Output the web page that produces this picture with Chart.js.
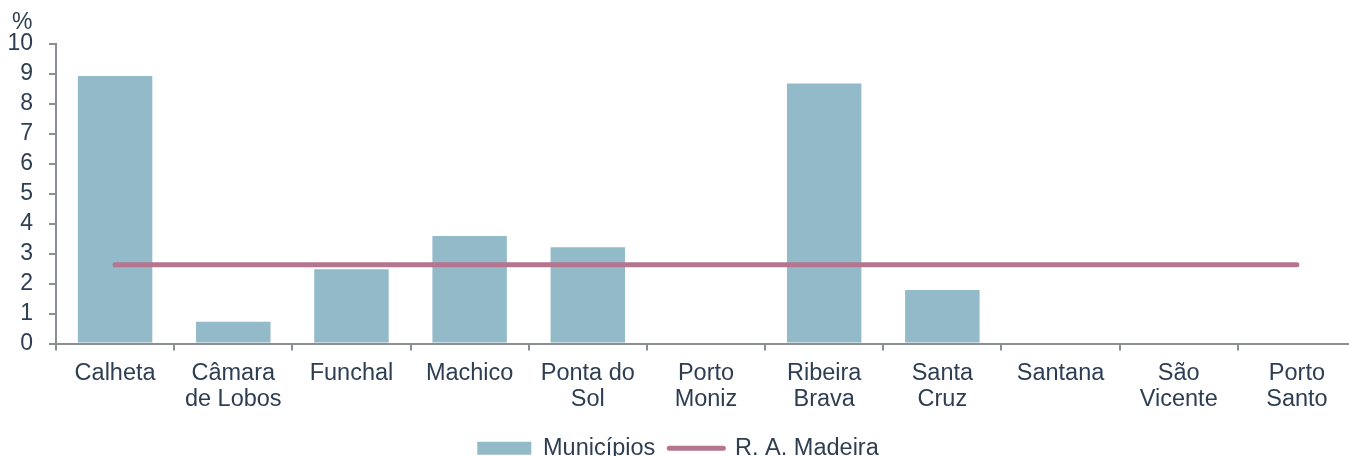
<!DOCTYPE html>
<html>
<head>
<meta charset="utf-8">
<script src="https://cdn.jsdelivr.net/npm/chart.js@4"></script>
<style>
html,body{margin:0;padding:0;background:#fff;overflow:hidden;}
#wrap{position:absolute;left:0;top:0;width:1356px;height:470px;}
</style>
</head>
<body>
<div id="wrap"><canvas id="c"></canvas></div>
<script>
const categories = [
  ['Calheta'], ['Câmara', 'de Lobos'], ['Funchal'], ['Machico'], ['Ponta do', 'Sol'],
  ['Porto', 'Moniz'], ['Ribeira', 'Brava'], ['Santa', 'Cruz'], ['Santana'], ['São', 'Vicente'], ['Porto', 'Santo']
];
const municipios = [8.93, 0.73, 2.48, 3.59, 3.21, 0, 8.68, 1.79, 0, 0, 0];
const madeira = [2.63, 2.63, 2.63, 2.63, 2.63, 2.63, 2.63, 2.63, 2.63, 2.63, 2.63];
const seriesNames = ['Municípios', 'R. A. Madeira'];
const yTicks = [0, 1, 2, 3, 4, 5, 6, 7, 8, 9, 10];
const unitLabel = '%';

const textColor = '#2e3e52';
const axisColor = '#8b8e92';
const barColor = '#93bac8';
const lineColor = '#b5758f';
const FONT = '"Liberation Sans", Arial, sans-serif';

const unitPlugin = {
  id: 'unitLabel',
  afterDraw(chart) {
    const ctx = chart.ctx;
    ctx.save();
    ctx.font = '23px ' + FONT;
    ctx.fillStyle = textColor;
    ctx.textAlign = 'left';
    ctx.textBaseline = 'alphabetic';
    ctx.fillText(unitLabel, 12, 29);
    ctx.restore();
  }
};

new Chart(document.getElementById('c'), {
  data: {
    labels: categories,
    datasets: [
      {
        type: 'bar', label: seriesNames[0], data: municipios,
        backgroundColor: barColor, borderWidth: 0,
        barPercentage: 0.63, categoryPercentage: 1.0, order: 2
      },
      {
        type: 'line', label: seriesNames[1], data: madeira,
        borderColor: lineColor, backgroundColor: lineColor, borderWidth: 5,
        borderCapStyle: 'round', pointRadius: 0, pointHoverRadius: 0, fill: false, order: 1
      }
    ]
  },
  options: {
    responsive: true, maintainAspectRatio: false, animation: false,
    layout: { padding: { top: 44, left: 0, right: 0, bottom: 0 } },
    plugins: {
      tooltip: { enabled: false },
      legend: {
        position: 'bottom',
        labels: {
          usePointStyle: true, pointStyleWidth: 54, boxHeight: 13,
          padding: 14, color: textColor,
          font: { family: FONT, size: 23.5 },
          generateLabels(chart) {
            return [
              { text: seriesNames[0], fillStyle: barColor, strokeStyle: barColor, lineWidth: 0,
                pointStyle: 'rect', datasetIndex: 0, fontColor: textColor, hidden: false },
              { text: seriesNames[1], fillStyle: lineColor, strokeStyle: lineColor, lineWidth: 5,
                lineCap: 'round', pointStyle: 'line', datasetIndex: 1, fontColor: textColor, hidden: false }
            ];
          }
        }
      }
    },
    scales: {
      x: {
        offset: true,
        grid: { offset: true, drawOnChartArea: false, drawTicks: true, tickLength: 7, color: axisColor, lineWidth: 2 },
        border: { color: axisColor, width: 2 },
        ticks: { color: textColor, font: { family: FONT, size: 23.5, lineHeight: 1.12 }, padding: 10, maxRotation: 0, autoSkip: false },
        afterFit(scale) { scale.height = 79; }
      },
      y: {
        min: 0, max: 10,
        afterBuildTicks(scale) { scale.ticks = yTicks.map(v => ({ value: v })); },
        grid: { drawOnChartArea: false, drawTicks: true, tickLength: 7, color: axisColor, lineWidth: 2 },
        border: { color: axisColor, width: 2 },
        ticks: { color: textColor, font: { family: FONT, size: 23 }, padding: 16, autoSkip: false },
        afterFit(scale) { scale.width = 56; }
      }
    }
  },
  plugins: [unitPlugin]
});
</script>
</body>
</html>
